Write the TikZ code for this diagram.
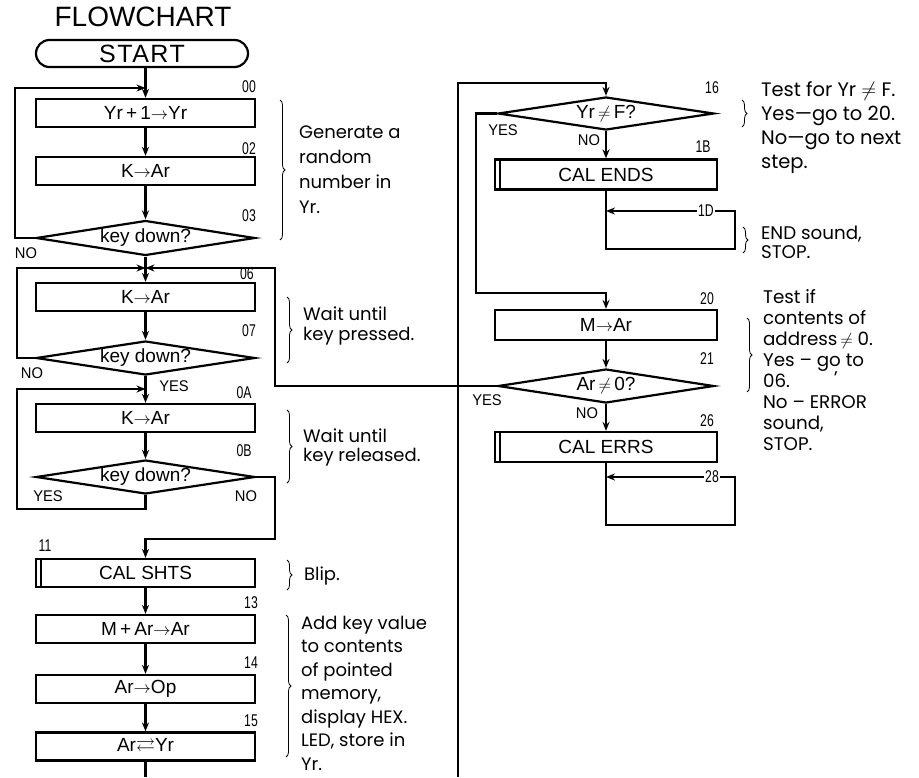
\documentclass[tikz,border=0pt]{standalone}
\usepackage{fontspec}
\usepackage{amssymb}
\usetikzlibrary{arrows.meta,shapes.geometric,decorations.pathreplacing,calc}
\setmainfont{Liberation Sans}
\newfontfamily\notefont[Ligatures=TeX]{Poppins}
\newfontfamily\numfont[FakeStretch=0.72]{Liberation Sans}
\newfontfamily\ynfont[FakeStretch=0.95]{Liberation Sans}
\newfontfamily\startfont[LetterSpace=6]{Liberation Sans}
\begin{document}
\begin{tikzpicture}[x=1pt,y=-1pt,line width=2.2pt,
  arr/.style={-{Stealth[length=9pt,width=7pt]}},
  proc/.style={draw,fill=white,rectangle,minimum width=219pt,minimum height=28pt,inner sep=0pt,font=\fontsize{19}{19}\selectfont},
  rproc/.style={proc,minimum width=222pt,minimum height=30pt},
  dia/.style={draw,fill=white,diamond,aspect=6.4,minimum width=219pt,minimum height=35pt,inner sep=0pt,font=\fontsize{19}{19}\selectfont},
  rdia/.style={dia,minimum width=216pt,minimum height=33pt},
  numlbl/.style={font=\numfont\fontsize{17}{17}\selectfont,inner sep=0pt},
  yn/.style={font=\ynfont\fontsize{15.5}{15.5}\selectfont,inner sep=0pt},
  note/.style={font=\notefont\fontsize{18}{#1}\selectfont,align=left,anchor=north west,inner sep=0pt},
  rnote/.style={font=\notefont\fontsize{19.5}{#1}\selectfont,align=left,anchor=north west,inner sep=0pt},
  snote/.style={font=\notefont\fontsize{18.3}{#1}\selectfont,align=left,anchor=north west,inner sep=0pt},
  brc/.style={line width=0.8pt,decorate,decoration={brace,amplitude=5pt}}
]
\useasboundingbox (0,0) rectangle (919,777);
\fill[white] (0,0) rectangle (919,777);

% ---------- left column ----------
\node[font=\fontsize{28}{28}\selectfont,inner sep=0pt] (title) at (143,17) {FLOWCHART};
\node[draw,rounded corners=13.5pt,minimum width=212pt,minimum height=27pt,inner sep=0pt,font=\startfont\fontsize{25}{25}\selectfont] (start) at (142,53.5) {START};

\node[proc] (b00) at (145.5,113) {Yr\,+\,1$\rightarrow$Yr};
\node[proc] (b02) at (145.5,171) {K$\rightarrow$Ar};
\node[dia] (d03) at (145.5,238) {key down?};
\node[proc] (b06) at (145.5,297) {K$\rightarrow$Ar};
\node[dia,minimum height=34pt] (d07) at (145.5,358) {key down?};
\node[proc] (b0A) at (145.5,418) {K$\rightarrow$Ar};
\node[dia,minimum height=34pt] (d0B) at (145.5,477) {key down?};
\node[proc] (b11) at (145.5,573) {CAL SHTS};
\node[proc] (b13) at (145.5,629) {M\,+\,Ar$\rightarrow$Ar};
\node[proc] (b14) at (145.5,689) {Ar$\rightarrow$Op};
\node[proc] (b15) at (145.5,746.5) {Ar$\rightleftarrows$Yr};
\draw[line width=1.4pt] ([xshift=6pt]b11.north west) -- ([xshift=6pt]b11.south west);

\coordinate (j00) at (145.5,88);
\coordinate (j06) at (145.5,268);
\coordinate (j0A) at (145.5,389);
\coordinate (lbot) at (145.5,777);

\draw[arr] (start.south -| b00.north) -- (b00.north);
\draw[arr] (b00) -- (b02);
\draw[arr] (b02) -- (d03);
\draw[arr] (d03.west) -- (15,238) -- (15,88) -- (j00);
\draw[arr] (d03) -- (b06);
\draw[arr] (b06) -- (d07);
\draw[arr] (d07.west) -- (17,358) -- (17,268) -- (j06);
\draw[arr] (d07) -- (b0A);
\draw[arr] (b0A) -- (d0B);
\draw[arr] (d0B.south) -- (145.5,509) -- (17,509) -- (17,389) -- (j0A);
\draw[arr] (d0B.east) -- (275,477) -- (275,539) -- (145.5,539) -- (b11.north);
\draw[arr] (b11) -- (b13);
\draw[arr] (b13) -- (b14);
\draw[arr] (b14) -- (b15);
\draw (b15) -- (lbot);

% labels left
\node[numlbl] (l00) at (249,87) {00};
\node[numlbl] (l02) at (249,149) {02};
\node[numlbl] (l03) at (249,216) {03};
\node[numlbl] (l06) at (247,274) {06};
\node[numlbl] (l07) at (249,331) {07};
\node[numlbl] (l0A) at (244,393) {0A};
\node[numlbl] (l0B) at (244,451) {0B};
\node[numlbl] (l11) at (45,546) {11};
\node[numlbl] (l13) at (251,603) {13};
\node[numlbl] (l14) at (251,663) {14};
\node[numlbl] (l15) at (251,721) {15};

\node[yn] (no1) at (26,253) {NO};
\node[yn] (no2) at (32,373) {NO};
\node[yn] (yes2) at (174,386) {YES};
\node[yn] (yes3) at (48,496) {YES};
\node[yn] (no3) at (246,496) {NO};

% braces + notes left
\draw[brc] (280,100) -- (280,240);
\node[note=25] (t1) at (298,125) {Generate a\\random\\number in\\Yr.};
\draw[brc] (287,297) -- (287,363);
\node[note=20] (t2) at (302,306) {Wait until\\key pressed.};
\draw[brc] (287,410) -- (287,483);
\node[note=19] (t3) at (302,428) {Wait until\\key released.};
\draw[brc] (287,560) -- (287,590);
\node[note=20] (t4) at (303,566) {Blip.};
\draw[brc] (286,615) -- (286,757);
\node[note=23.5] (t5) at (300,615) {Add key value\\to contents\\of pointed\\memory,\\display HEX.\\LED, store in\\Yr.};

% ---------- right column ----------
\node[rdia] (d16) at (606,113.5) {Yr\,$\neq$\,F?};
\node[rproc] (b1B) at (606,174.5) {CAL ENDS};
\node[rproc] (b20) at (606,325) {M$\rightarrow$Ar};
\node[rdia,minimum height=34pt] (d21) at (606,386) {Ar\,$\neq$\,0?};
\node[rproc] (b26) at (606,447) {CAL ERRS};
\draw[line width=1.4pt] ([xshift=6pt]b1B.north west) -- ([xshift=6pt]b1B.south west);
\draw[line width=1.4pt] ([xshift=6pt]b26.north west) -- ([xshift=6pt]b26.south west);

\coordinate (rbot) at (458,777);
\coordinate (j1D) at (606,211);
\coordinate (j28) at (606,477);

\draw[arr] (rbot) -- (458,83) -- (606,83) -- (d16.north);
\draw[arr] (d16.west) -- (476,113.5) -- (476,293) -- (606,293) -- (b20.north);
\draw[arr] (d16) -- (b1B);
\draw[arr] (b1B.south) -- (606,249) -- (735,249) -- (735,211) -- (j1D);
\draw[arr] (b20) -- (d21);
\draw[arr] (d21) -- (b26);
\draw[arr] (b26.south) -- (606,525) -- (735,525) -- (735,477) -- (j28);
\draw[arr] (d21.west) -- (275,386) -- (275,268) -- (j06);

\node[numlbl] (l16) at (712,88) {16};
\node[numlbl] (l1B) at (703,147) {1B};
\node[numlbl,fill=white,inner sep=1pt] (l1D) at (706,211) {1D};
\node[numlbl] (l20) at (707,299) {20};
\node[numlbl] (l21) at (707,359) {21};
\node[numlbl] (l26) at (707,421) {26};
\node[numlbl,fill=white,inner sep=1pt] (l28) at (712,477) {28};

\node[yn] (yes16) at (503,130) {YES};
\node[yn] (no16) at (589,140) {NO};
\node[yn] (yes21) at (487,400) {YES};
\node[yn] (no21) at (587,413) {NO};

\draw[brc] (742,100) -- (742,127);
\node[rnote=24] (r1) at (760,80) {Test for Yr $\neq$ F.\\Yes—go to 20.\\No—go to next\\step.};
\draw[brc] (743,227) -- (743,253);
\node[snote=19] (r2) at (760,225) {END sound,\\STOP.};
\draw[brc] (747,318) -- (747,392);
\node[snote=21] (r3) at (762,288) {Test if\\contents of\\address$\,\neq$ 0.\\Yes – go to\\06.\hspace{2.4em}\raisebox{3pt}{’}\\No – ERROR\\sound,\\STOP.};
\end{tikzpicture}
\end{document}
